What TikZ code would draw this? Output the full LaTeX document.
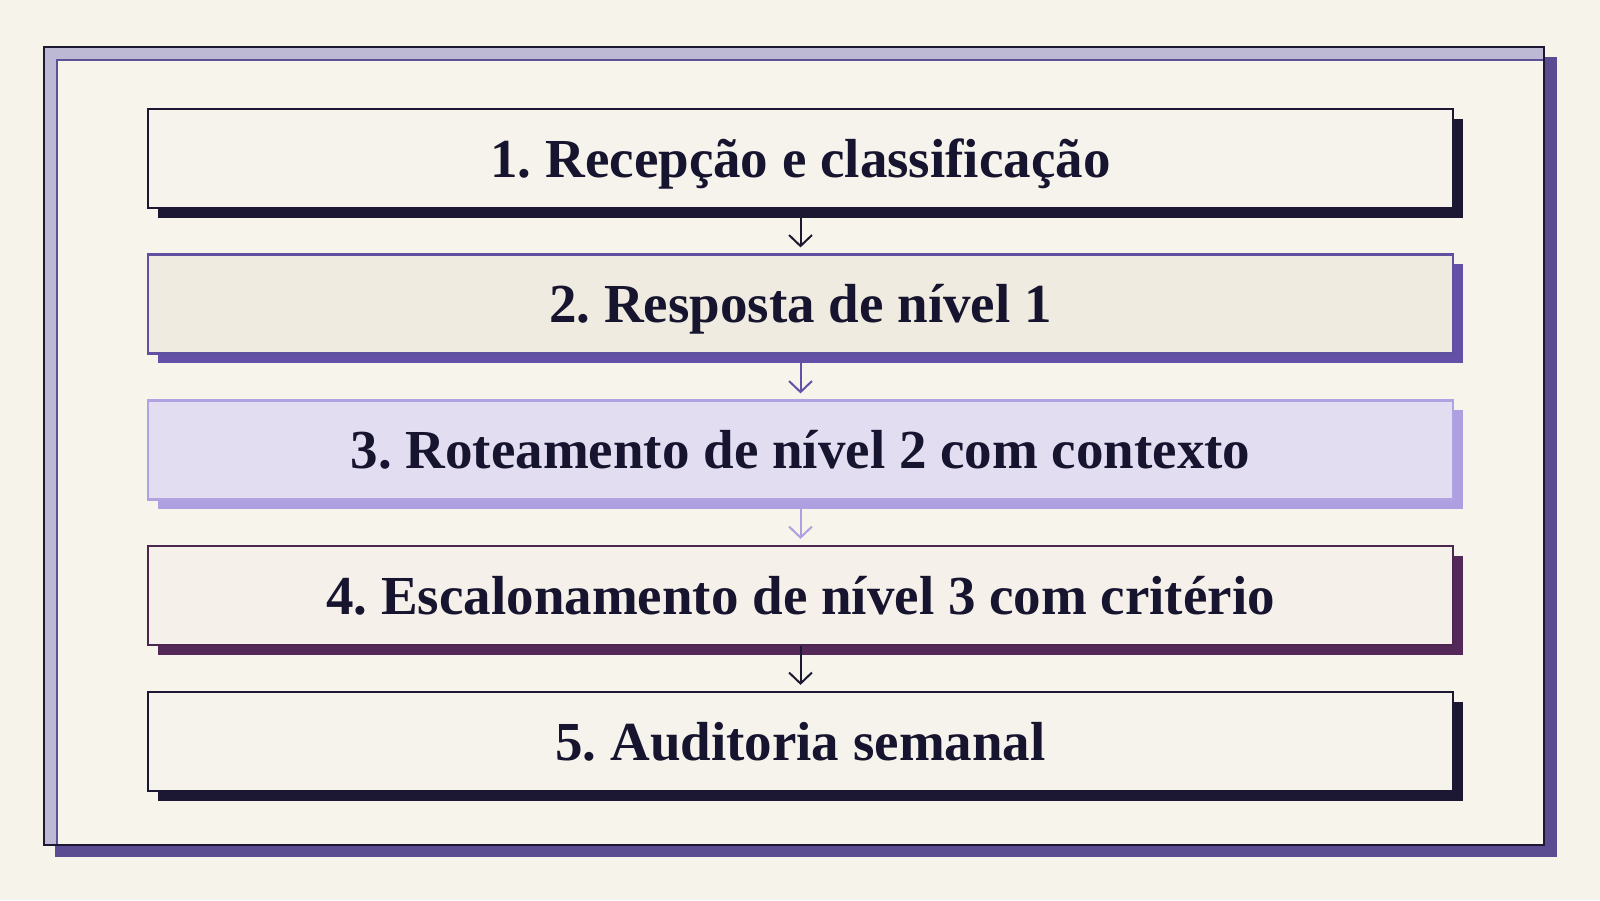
\documentclass[tikz,border=0pt]{standalone}
\usepackage{fontspec}
\setmainfont{Liberation Serif}
\usetikzlibrary{arrows.meta,shadows}
\definecolor{bg}{HTML}{F6F3EA}
\definecolor{ink}{HTML}{1C1833}
\definecolor{txt}{HTML}{16142E}
\definecolor{framelav}{HTML}{BDB8D3}
\definecolor{frameshadow}{HTML}{5B4C92}
\definecolor{frameline}{HTML}{5E5096}
\definecolor{innerbg}{HTML}{F7F4EB}
\definecolor{fillA}{HTML}{F6F3EC}
\definecolor{fillB}{HTML}{EFEBE0}
\definecolor{lineB}{HTML}{5F50A0}
\definecolor{shadB}{HTML}{6450A6}
\definecolor{fillC}{HTML}{E3DDF1}
\definecolor{lineC}{HTML}{B1A3E2}
\definecolor{shadC}{HTML}{AE9FE1}
\definecolor{fillD}{HTML}{F6F0EA}
\definecolor{lineD}{HTML}{4B2750}
\definecolor{shadD}{HTML}{55285A}
\frenchspacing
\begin{document}
\begin{tikzpicture}[x=1pt,y=-1pt,
  stepbox/.style={rectangle, minimum width=1305pt, minimum height=99pt,
    inner sep=0pt, line width=2.2pt, text height=37pt, text depth=0pt,
    font=\fontsize{55}{60}\selectfont\bfseries, text=txt},
  boxdark/.style={stepbox, draw=ink, fill=fillA,
    drop shadow={shadow xshift=9.5pt, shadow yshift=-9.5pt, fill=ink, opacity=1}},
  boxpurple/.style={stepbox, draw=lineB, fill=fillB,
    drop shadow={shadow xshift=9.5pt, shadow yshift=-9.5pt, fill=shadB, opacity=1}},
  boxlav/.style={stepbox, draw=lineC, fill=fillC,
    drop shadow={shadow xshift=9.5pt, shadow yshift=-9.5pt, fill=shadC, opacity=1}},
  boxplum/.style={stepbox, draw=lineD, fill=fillD,
    drop shadow={shadow xshift=9.5pt, shadow yshift=-9.5pt, fill=shadD, opacity=1}},
  arr/.style={line width=2pt, -{Straight Barb[length=11pt,width=23pt]}}
]
\useasboundingbox (0,0) rectangle (1600,900);
\fill[bg] (0,0) rectangle (1600,900);
% frame
\fill[frameshadow] (55,57) rectangle (1557,857);
\fill[framelav] (43,46) rectangle (1545,846);
\fill[innerbg] (56,59) rectangle (1544,845);
\draw[frameline, line width=1.6pt] (56.75,845) -- (56.75,59.75) -- (1544,59.75);
\draw[ink, line width=2.2pt] (44,47) rectangle (1544,845);
% steps
\node[boxdark]   (b1) at (800.5,158.5) {1. Recepção e classificação};
\node[boxpurple] (b2) at (800.5,304)   {2. Resposta de nível 1};
\node[boxlav]    (b3) at (800.5,450)   {3. Roteamento de nível 2 com contexto};
\node[boxplum]   (b4) at (800.5,595.5) {4. Escalonamento de nível 3 com critério};
\node[boxdark]   (b5) at (800.5,741.5) {5. Auditoria semanal};
% arrows
\draw[arr, ink]    (b1.south) -- ([yshift=6pt]b2.north);
\draw[arr, shadB]  (b2.south) -- ([yshift=6pt]b3.north);
\draw[arr, shadC]  (b3.south) -- ([yshift=6pt]b4.north);
\draw[arr, ink]    (b4.south) -- ([yshift=6pt]b5.north);
\end{tikzpicture}
\end{document}
